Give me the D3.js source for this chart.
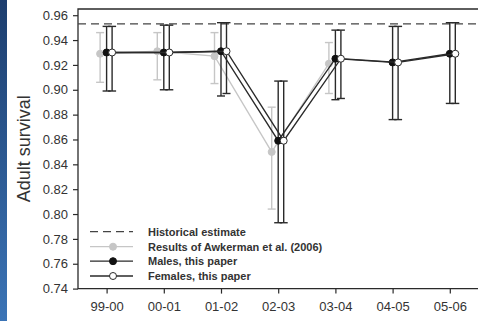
<!DOCTYPE html>
<html>
<head>
<meta charset="utf-8">
<script src="https://cdn.jsdelivr.net/npm/d3@7"></script>
<style>
  body { margin: 0; background: #fff; }
  svg { display: block; font-family: "Liberation Sans", Arial, sans-serif; }
</style>
</head>
<body>
<svg width="478" height="321"></svg>
<script>
var seasons = ["99-00", "00-01", "01-02", "02-03", "03-04", "04-05", "05-06"];
var yTicks = [0.74, 0.76, 0.78, 0.80, 0.82, 0.84, 0.86, 0.88, 0.90, 0.92, 0.94, 0.96];

var maleEst = [0.930, 0.930, 0.931, 0.859, 0.925, 0.922, 0.929];
var maleLo  = [0.899, 0.900, 0.895, 0.793, 0.892, 0.876, 0.889];
var maleHi  = [0.951, 0.952, 0.954, 0.907, 0.948, 0.951, 0.954];

var femaleEst = [0.930, 0.930, 0.931, 0.859, 0.925, 0.922, 0.929];
var femaleLo  = [0.899, 0.900, 0.897, 0.793, 0.893, 0.876, 0.889];
var femaleHi  = [0.951, 0.952, 0.954, 0.907, 0.948, 0.951, 0.954];

var awkSeasons = ["99-00", "00-01", "01-02", "02-03", "03-04"];
var awkEst = [0.929, 0.931, 0.927, 0.850, 0.921];
var awkLo  = [0.906, 0.908, 0.905, 0.804, 0.897];
var awkHi  = [0.946, 0.946, 0.946, 0.886, 0.938];

var historical = 0.953;

var legendLabels = ["Historical estimate", "Results of Awkerman et al. (2006)",
                    "Males, this paper", "Females, this paper"];

var svg = d3.select("svg"),
    width = +svg.attr("width"),
    height = +svg.attr("height");

// slide background strip on the left
var grad = svg.append("defs").append("linearGradient")
    .attr("id", "strip").attr("x1", 0).attr("y1", 0).attr("x2", 0).attr("y2", 1);
grad.append("stop").attr("offset", "0%").attr("stop-color", "#1d3e6e");
grad.append("stop").attr("offset", "100%").attr("stop-color", "#3b74b6");
svg.append("rect").attr("x", 0).attr("y", 0).attr("width", 7).attr("height", height)
    .attr("fill", "url(#strip)");

var plotL = 78, plotR = 478.4, plotT = 9, plotB = 288.6;

var x = d3.scalePoint().domain(seasons).range([plotL, plotR]).padding(0.5);
var y = d3.scaleLinear().domain([0.74, 0.965]).range([plotB, plotT]);

var offGray = -6.5, offMale = 0, offFemale = 5.5;
var ink = "#2a2a2a", gray = "#c6c6c6";

// axes
var yAxis = svg.append("g").attr("transform", "translate(" + plotL + ",0)")
    .call(d3.axisLeft(y).tickValues(yTicks).tickFormat(d3.format(".2f")).tickSize(5).tickPadding(5));
var xAxis = svg.append("g").attr("transform", "translate(0," + plotB + ")")
    .call(d3.axisBottom(x).tickSize(5).tickPadding(8));
[yAxis, xAxis].forEach(function(g) {
  g.select(".domain").remove();
  g.selectAll("line").attr("stroke", ink).attr("stroke-width", 1.2);
  g.selectAll("text").attr("fill", "#333").style("font-size", "13px")
    .style("font-family", "'Liberation Sans', Arial, sans-serif");
});

svg.append("path")
    .attr("d", "M" + plotR + "," + plotT + "H" + plotL + "V" + plotB + "H" + plotR)
    .attr("fill", "none").attr("stroke", ink).attr("stroke-width", 1.3);

svg.append("text")
    .attr("transform", "translate(30," + ((plotT + plotB) / 2) + ") rotate(-90)")
    .attr("text-anchor", "middle")
    .attr("fill", "#333")
    .style("font-size", "18px")
    .text("Adult survival");

// historical estimate
svg.append("line")
    .attr("x1", plotL).attr("x2", plotR)
    .attr("y1", y(historical)).attr("y2", y(historical))
    .attr("stroke", "#444").attr("stroke-width", 1.3).attr("stroke-dasharray", "8,5");

function drawSeries(cats, est, lo, hi, off, barColor, lineColor, dotFill, dotStroke) {
  var pts = cats.map(function(c, i) { return { c: c, v: est[i], lo: lo[i], hi: hi[i] }; });
  var g = svg.append("g");
  var px = function(d) { return x(d.c) + off; };
  g.selectAll("line.bar").data(pts).enter().append("line")
      .attr("x1", px).attr("x2", px)
      .attr("y1", function(d) { return y(d.lo); })
      .attr("y2", function(d) { return y(d.hi); })
      .attr("stroke", barColor).attr("stroke-width", 1.4);
  ["lo", "hi"].forEach(function(k) {
    g.selectAll("line.cap" + k).data(pts).enter().append("line")
        .attr("x1", function(d) { return px(d) - 4; })
        .attr("x2", function(d) { return px(d) + 4; })
        .attr("y1", function(d) { return y(d[k]); })
        .attr("y2", function(d) { return y(d[k]); })
        .attr("stroke", barColor).attr("stroke-width", 1.4);
  });
  g.append("path").datum(pts)
      .attr("d", d3.line().x(px).y(function(d) { return y(d.v); }))
      .attr("fill", "none").attr("stroke", lineColor).attr("stroke-width", 1.3);
  g.selectAll("circle").data(pts).enter().append("circle")
      .attr("cx", px).attr("cy", function(d) { return y(d.v); })
      .attr("r", 3.5).attr("fill", dotFill).attr("stroke", dotStroke).attr("stroke-width", 1);
}

drawSeries(awkSeasons, awkEst, awkLo, awkHi, offGray, gray, gray, gray, gray);
drawSeries(seasons, maleEst, maleLo, maleHi, offMale, ink, ink, "#111", "#111");
drawSeries(seasons, femaleEst, femaleLo, femaleHi, offFemale, ink, ink, "#fff", ink);

// legend
var legY = [231.7, 246.7, 261.2, 276];
var lx1 = 90, lx2 = 133, lmid = 113;
var leg = svg.append("g");
leg.append("line").attr("x1", lx1).attr("x2", lx2).attr("y1", legY[0]).attr("y2", legY[0])
    .attr("stroke", "#444").attr("stroke-width", 1.3).attr("stroke-dasharray", "8,5");
var legStyles = [null, [gray, gray, gray], [ink, "#111", "#111"], [ink, "#fff", ink]];
for (var i = 1; i < 4; i++) {
  leg.append("line").attr("x1", lx1).attr("x2", lx2).attr("y1", legY[i]).attr("y2", legY[i])
      .attr("stroke", legStyles[i][0]).attr("stroke-width", 1.3);
  leg.append("circle").attr("cx", lmid).attr("cy", legY[i]).attr("r", 3.5)
      .attr("fill", legStyles[i][1]).attr("stroke", legStyles[i][2]).attr("stroke-width", 1);
}
leg.selectAll("text").data(legendLabels).enter().append("text")
    .attr("x", 148).attr("y", function(d, i) { return legY[i] + 4; })
    .attr("fill", "#333").style("font-size", "11px").style("font-weight", "bold")
    .text(function(d) { return d; });
</script>
</body>
</html>
